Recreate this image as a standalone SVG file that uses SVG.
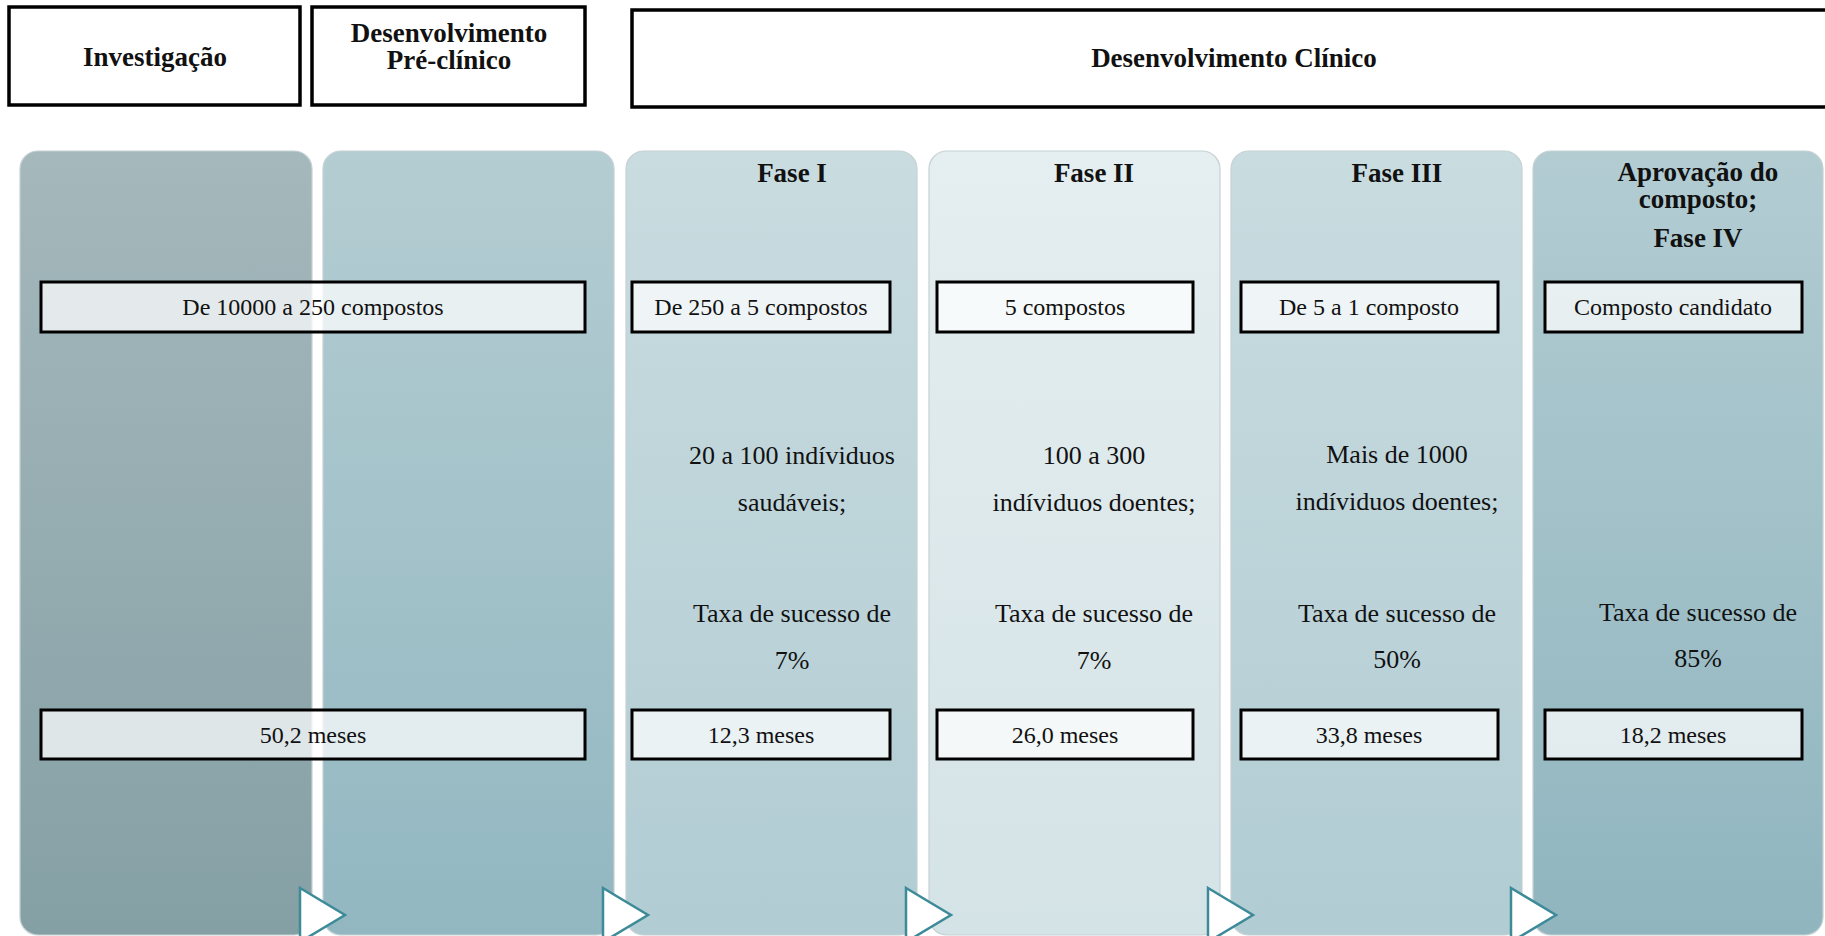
<svg xmlns="http://www.w3.org/2000/svg" width="1825" height="936" viewBox="0 0 1825 936">
  <style>
    .hdr { fill: #ffffff; stroke: #000000; stroke-width: 3.5; }
    .col { stroke: #c6d1d4; stroke-width: 1.2; }
    .box { fill: #ffffff; fill-opacity: 0.72; stroke: #000000; stroke-width: 3; }
    .tb { font-family: "Liberation Serif", "Times New Roman", serif; font-weight: bold; font-size: 27px; fill: #111111; text-anchor: middle; }
    .th { font-family: "Liberation Serif", "Times New Roman", serif; font-weight: bold; font-size: 27px; fill: #111111; text-anchor: middle; }
    .tx { font-family: "Liberation Serif", "Times New Roman", serif; font-size: 24px; fill: #111111; text-anchor: middle; }
    .body { font-family: "Liberation Serif", "Times New Roman", serif; font-size: 26px; fill: #111111; text-anchor: middle; }
    .arrow { fill: #ffffff; stroke: #3d8a99; stroke-width: 2.5; stroke-linejoin: miter; }
  </style>
  <defs>
    <linearGradient id="g1" x1="0" y1="0" x2="0" y2="1">
      <stop offset="0" stop-color="#a5b8bc"/>
      <stop offset="1" stop-color="#85a0a5"/>
    </linearGradient>
    <linearGradient id="g2" x1="0" y1="0" x2="0" y2="1">
      <stop offset="0" stop-color="#b4cdd2"/>
      <stop offset="1" stop-color="#92b7c1"/>
    </linearGradient>
    <linearGradient id="g3" x1="0" y1="0" x2="0" y2="1">
      <stop offset="0" stop-color="#c9dce0"/>
      <stop offset="1" stop-color="#b1ccd3"/>
    </linearGradient>
    <linearGradient id="g4" x1="0" y1="0" x2="0" y2="1">
      <stop offset="0" stop-color="#e5eef0"/>
      <stop offset="1" stop-color="#d4e3e6"/>
    </linearGradient>
    <linearGradient id="g5" x1="0" y1="0" x2="0" y2="1">
      <stop offset="0" stop-color="#c9dce0"/>
      <stop offset="1" stop-color="#b1ccd3"/>
    </linearGradient>
    <linearGradient id="g6" x1="0" y1="0" x2="0" y2="1">
      <stop offset="0" stop-color="#b2ccd2"/>
      <stop offset="1" stop-color="#90b5bf"/>
    </linearGradient>
  </defs>

  <rect width="1825" height="936" fill="#ffffff"/>

  <!-- stage headers -->
  <g id="stage-investigacao">
    <rect class="hdr" x="9" y="7" width="291" height="98"/>
    <text class="tb" x="155" y="66">Investigação</text>
  </g>
  <g id="stage-preclinico">
    <rect class="hdr" x="312" y="7" width="273" height="98"/>
    <text class="tb" x="449" y="42">Desenvolvimento</text>
    <text class="tb" x="449" y="69">Pré-clínico</text>
  </g>
  <g id="stage-clinico">
    <rect class="hdr" x="632" y="10" width="1210" height="97"/>
    <text class="tb" x="1234" y="67">Desenvolvimento Clínico</text>
  </g>

  <!-- phase columns -->
  <g id="col-investigacao">
    <rect class="col" x="20" y="151" width="292" height="784" rx="18" fill="url(#g1)"/>
  </g>
  <g id="col-preclinico">
    <rect class="col" x="323" y="151" width="291" height="784" rx="18" fill="url(#g2)"/>
  </g>
  <g id="col-fase1">
    <rect class="col" x="626" y="151" width="291" height="784" rx="18" fill="url(#g3)"/>
    <text class="th" x="792" y="182">Fase I</text>
    <text class="body" x="792" y="464">20 a 100 indíviduos</text>
    <text class="body" x="792" y="511">saudáveis;</text>
    <text class="body" x="792" y="622">Taxa de sucesso de</text>
    <text class="body" x="792" y="669">7%</text>
  </g>
  <g id="col-fase2">
    <rect class="col" x="929" y="151" width="291" height="784" rx="18" fill="url(#g4)"/>
    <text class="th" x="1094" y="182">Fase II</text>
    <text class="body" x="1094" y="464">100 a 300</text>
    <text class="body" x="1094" y="511">indíviduos doentes;</text>
    <text class="body" x="1094" y="622">Taxa de sucesso de</text>
    <text class="body" x="1094" y="669">7%</text>
  </g>
  <g id="col-fase3">
    <rect class="col" x="1231" y="151" width="291" height="784" rx="18" fill="url(#g5)"/>
    <text class="th" x="1397" y="182">Fase III</text>
    <text class="body" x="1397" y="463">Mais de 1000</text>
    <text class="body" x="1397" y="510">indíviduos doentes;</text>
    <text class="body" x="1397" y="622">Taxa de sucesso de</text>
    <text class="body" x="1397" y="668">50%</text>
  </g>
  <g id="col-fase4">
    <rect class="col" x="1533" y="151" width="290" height="784" rx="18" fill="url(#g6)"/>
    <text class="th" x="1698" y="181">Aprovação do</text>
    <text class="th" x="1698" y="208">composto;</text>
    <text class="th" x="1698" y="247">Fase IV</text>
    <text class="body" x="1698" y="621">Taxa de sucesso de</text>
    <text class="body" x="1698" y="667">85%</text>
  </g>

  <!-- compound counts -->
  <g id="count-preclinico">
    <rect class="box" x="41" y="282" width="544" height="50"/>
    <text class="tx" x="313" y="315">De 10000 a 250 compostos</text>
  </g>
  <g id="count-fase1">
    <rect class="box" x="632" y="282" width="258" height="50"/>
    <text class="tx" x="761" y="315">De 250 a 5 compostos</text>
  </g>
  <g id="count-fase2">
    <rect class="box" x="937" y="282" width="256" height="50"/>
    <text class="tx" x="1065" y="315">5 compostos</text>
  </g>
  <g id="count-fase3">
    <rect class="box" x="1241" y="282" width="257" height="50"/>
    <text class="tx" x="1369" y="315">De 5 a 1 composto</text>
  </g>
  <g id="count-fase4">
    <rect class="box" x="1545" y="282" width="257" height="50"/>
    <text class="tx" x="1673" y="315">Composto candidato</text>
  </g>

  <!-- durations -->
  <g id="time-preclinico">
    <rect class="box" x="41" y="710" width="544" height="49"/>
    <text class="tx" x="313" y="743">50,2 meses</text>
  </g>
  <g id="time-fase1">
    <rect class="box" x="632" y="710" width="258" height="49"/>
    <text class="tx" x="761" y="743">12,3 meses</text>
  </g>
  <g id="time-fase2">
    <rect class="box" x="937" y="710" width="256" height="49"/>
    <text class="tx" x="1065" y="743">26,0 meses</text>
  </g>
  <g id="time-fase3">
    <rect class="box" x="1241" y="710" width="257" height="49"/>
    <text class="tx" x="1369" y="743">33,8 meses</text>
  </g>
  <g id="time-fase4">
    <rect class="box" x="1545" y="710" width="257" height="49"/>
    <text class="tx" x="1673" y="743">18,2 meses</text>
  </g>

  <!-- flow arrows between columns -->
  <g id="connectors">
    <polygon class="arrow" points="300,888 345,915 300,942"/>
    <polygon class="arrow" points="603,888 648,915 603,942"/>
    <polygon class="arrow" points="906,888 951,915 906,942"/>
    <polygon class="arrow" points="1208,888 1253,915 1208,942"/>
    <polygon class="arrow" points="1511,888 1556,915 1511,942"/>
  </g>
</svg>
